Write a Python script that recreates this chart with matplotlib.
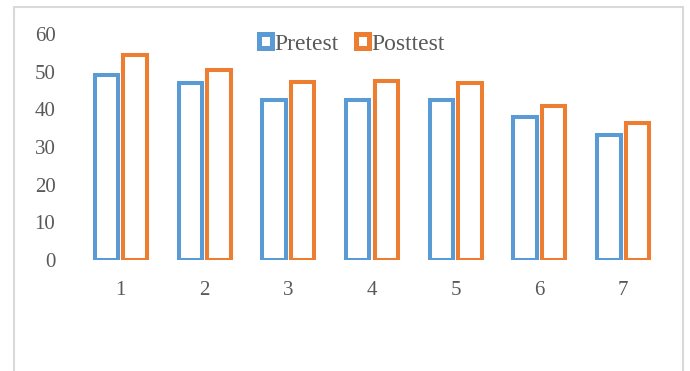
import matplotlib.pyplot as plt
from matplotlib.patches import Rectangle
import numpy as np

###################
#   Chart data    #
###################
categories = ["1", "2", "3", "4", "5", "6", "7"]
pretest = [49, 47, 42.5, 42.5, 42.5, 38, 33.3]
posttest = [54.5, 50.5, 47.3, 47.5, 47, 41, 36.3]

blue = "#5B9BD5"
orange = "#ED7D31"
grey_text = "#595959"

plt.rcParams["font.family"] = ["Liberation Serif", "DejaVu Serif"]

fig = plt.figure(figsize=(6.9, 3.71), dpi=100)
# Light grey chart-area border (bottom runs past the picture)
fig.patches.append(Rectangle((14 / 690, -0.05), 669 / 690, 1.05 - 7 / 371, transform=fig.transFigure,
                             fill=False, edgecolor="#D9D9D9", linewidth=1.5))

ax = fig.add_axes([79 / 690, 1 - 260 / 371, 586 / 690, 226 / 371])
x = np.arange(len(categories))
width = 0.28
offset = 0.17
b1 = ax.bar(x - offset, pretest, width, facecolor="white", edgecolor=blue, linewidth=2.9, label="Pretest")
b2 = ax.bar(x + offset, posttest, width, facecolor="white", edgecolor=orange, linewidth=2.9, label="Posttest")

ax.set_xlim(-0.5, len(categories) - 0.5)
ax.set_ylim(0, 60)
ax.set_yticks(np.arange(0, 61, 10))
ax.set_xticks(x)
ax.set_xticklabels(categories)
for s in ax.spines.values():
    s.set_visible(False)
ax.tick_params(axis="both", length=0, labelsize=15, labelcolor=grey_text)
ax.tick_params(axis="x", pad=15)
ax.tick_params(axis="y", pad=17)

# Legend on top of the plot
leg = fig.legend(handles=[b1, b2], loc="center", bbox_to_anchor=(352 / 690, 1 - 44 / 371), ncol=2,
                 frameon=False, fontsize=17, labelcolor=grey_text, handlelength=0.55, handleheight=0.55,
                 handletextpad=0.08, columnspacing=0.75)
for h in leg.legend_handles:
    h.set_linewidth(3.6)

plt.savefig("out.png", dpi=100)
